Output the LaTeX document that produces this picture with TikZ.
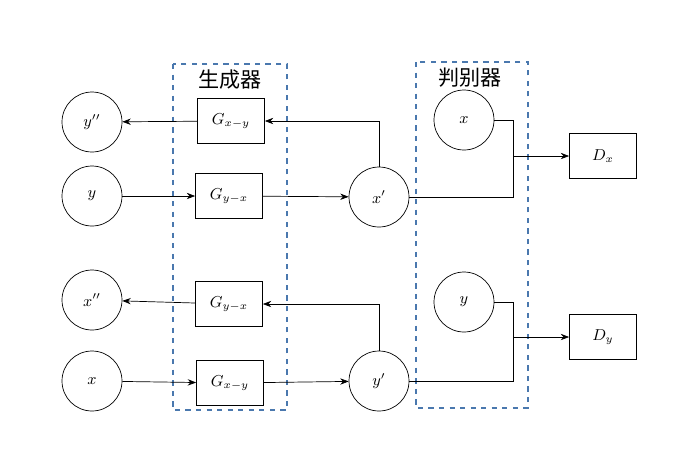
\documentclass[tikz,border=0pt]{standalone}
\usepackage{fontspec}
\newfontfamily\cjk{Noto Sans CJK SC}
\usetikzlibrary{positioning, arrows.meta, calc}
\definecolor{groupblue}{HTML}{4A78AE}

\begin{document}
\begin{tikzpicture}[
  x=0.02cm, y=-0.02cm,
  >=Stealth,
  every node/.style={font=\small},
  var/.style={draw, circle, minimum size=1.2cm, inner sep=0pt},
  gen/.style={draw, minimum width=1.34cm, minimum height=0.9cm, inner sep=0pt},
  group/.style={draw=groupblue, thick, dashed}
]
\useasboundingbox (0,0) rectangle (700,457);
% Dashed groups
\draw[group] (173,64) rectangle (287,410);
\draw[group] (416,62) rectangle (528,408);
\node[font=\cjk\large] (glabel) at (230,80) {生成器};
\node[font=\cjk\large] (dlabel) at (470,78) {判别器};
% Inputs and outputs
\node[var] (ypp) at (92,122) {$y''$};
\node[var] (y1) at (92,196) {$y$};
\node[var] (xpp) at (92,300) {$x''$};
\node[var] (x1) at (92,381) {$x$};
\node[var] (xp) at (379,197) {$x'$};
\node[var] (yp) at (379,381) {$y'$};
\node[var] (x2) at (464,120) {$x$};
\node[var] (y2) at (464,302) {$y$};
% Generators
\node[gen] (gxy1) at (231,121) {$G_{x-y}$};
\node[gen] (gyx1) at (229,196) {$G_{y-x}$};
\node[gen] (gyx2) at (229,304) {$G_{y-x}$};
\node[gen] (gxy2) at (230,383) {$G_{x-y}$};
% Discriminators
\node[gen] (dx) at (603,156) {$D_x$};
\node[gen] (dy) at (603,337) {$D_y$};
\coordinate (jx) at (513,156);
\coordinate (jy) at (513,337);
% Upper cycle
\draw[->] (gxy1) -- (ypp);
\draw[->] (y1) -- (gyx1);
\draw[->] (gyx1) -- (xp);
\draw[->] (xp) |- (gxy1);
\draw (xp) -| (jx);
\draw (x2.east) -| (jx);
\draw[->] (jx) -- (dx);
% Lower cycle
\draw[->] (gyx2) -- (xpp);
\draw[->] (x1) -- (gxy2);
\draw[->] (gxy2) -- (yp);
\draw[->] (yp) |- (gyx2);
\draw (yp) -| (jy);
\draw (y2.east) -| (jy);
\draw[->] (jy) -- (dy);
\end{tikzpicture}
\end{document}
